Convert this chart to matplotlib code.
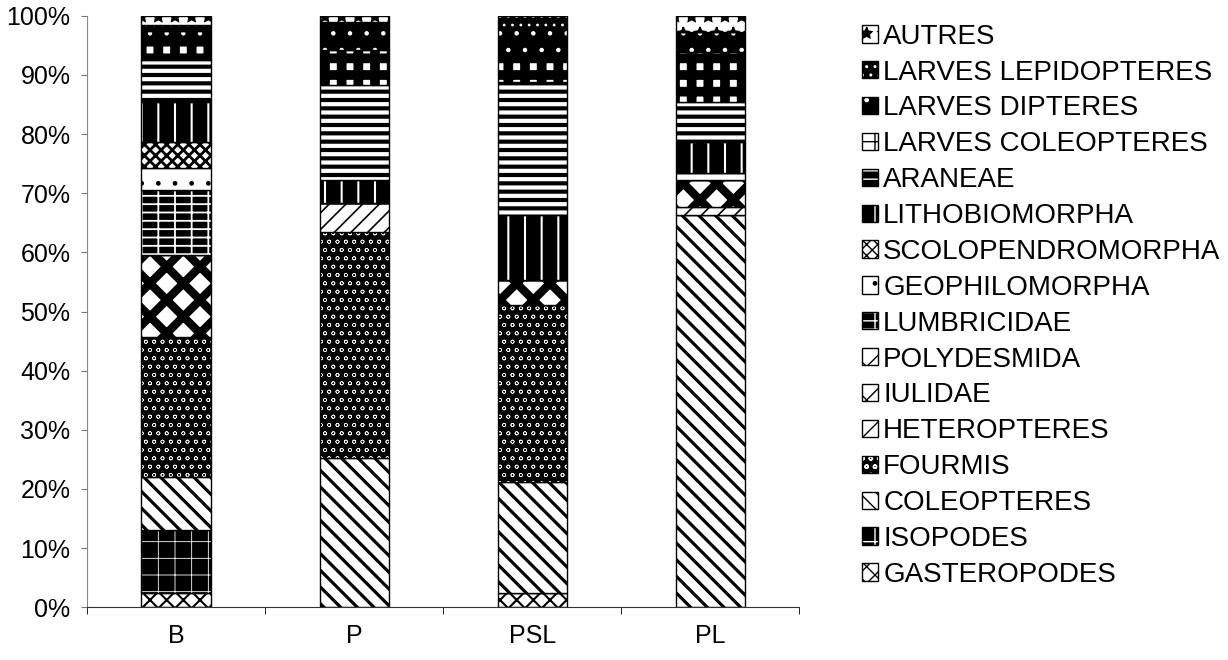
import matplotlib
matplotlib.use('Agg')
import matplotlib.pyplot as plt
import matplotlib.patches as mpatches
from matplotlib.legend_handler import HandlerTuple
import numpy as np

plt.rcParams['font.family'] = ['Liberation Sans', 'DejaVu Sans']

sites = ['B', 'P', 'PSL', 'PL']

taxons = ['GASTEROPODES', 'ISOPODES', 'COLEOPTERES', 'FOURMIS', 'HETEROPTERES',
          'IULIDAE', 'POLYDESMIDA', 'LUMBRICIDAE', 'GEOPHILOMORPHA',
          'SCOLOPENDROMORPHA', 'LITHOBIOMORPHA', 'ARANEAE', 'LARVES COLEOPTERES',
          'LARVES DIPTERES', 'LARVES LEPIDOPTERES', 'AUTRES']

# pourcentages par site (B, P, PSL, PL)
gasteropodes = [2.4, 0, 2.4, 0]
isopodes = [10.6, 0, 0, 0]
coleopteres = [9.0, 25.2, 18.8, 66.3]
fourmis = [23.7, 38.3, 29.9, 0]
heteropteres = [0, 4.9, 0, 1.4]
iulidae = [13.9, 0, 4.2, 4.6]
polydesmida = [0, 0, 0, 0]
lumbricidae = [11.0, 0, 0, 0]
geophilomorpha = [3.7, 0, 0, 1.1]
scolopendromorpha = [4.4, 0, 0, 0]
lithobiomorpha = [6.8, 3.9, 11.0, 5.3]
araneae = [7.0, 16.0, 22.5, 6.7]
larves_coleopteres = [3.9, 5.9, 4.6, 8.5]
larves_dipteres = [1.1, 4.8, 4.6, 3.4]
larves_lepidopteres = [1.0, 0, 2.0, 0]
autres = [1.5, 1.0, 0, 2.7]

valeurs = [gasteropodes, isopodes, coleopteres, fourmis, heteropteres, iulidae,
           polydesmida, lumbricidae, geophilomorpha, scolopendromorpha,
           lithobiomorpha, araneae, larves_coleopteres, larves_dipteres,
           larves_lepidopteres, autres]

# (fond, couleur des hachures, motif, epaisseur)
motifs = {
    'GASTEROPODES': ('white', 'black', 'xx', 1.5),
    'ISOPODES': ('black', 'white', '+', 0.6),
    'COLEOPTERES': ('white', 'black', '\\\\', 2.3),
    'FOURMIS': ('black', 'white', 'oo', 0.45),
    'HETEROPTERES': ('white', 'black', '//', 1.2),
    'IULIDAE': ('white', 'black', 'x', 6.0),
    'POLYDESMIDA': ('white', 'black', 'x', 1.0),
    'LUMBRICIDAE': ('black', 'white', '-+', 1.3),
    'GEOPHILOMORPHA': ('white', 'black', '.', 1.0),
    'SCOLOPENDROMORPHA': ('white', 'black', 'xxx', 2.0),
    'LITHOBIOMORPHA': ('black', 'white', '|', 1.5),
    'ARANEAE': ('black', 'white', '--', 3.0),
    'LARVES COLEOPTERES': ('white', 'black', '+', 7.0),
    'LARVES DIPTERES': ('black', 'white', '.', 0.8),
    'LARVES LEPIDOPTERES': ('black', 'white', '..', 0.8),
    'AUTRES': ('white', 'black', '*', 1.2),
}

fig = plt.figure(figsize=(12.28, 6.6), dpi=100)
ax = fig.add_axes([0.071, 0.080, 0.580, 0.896])

x = np.arange(len(sites))
largeur = 0.39
bas = np.zeros(len(sites))
handles = []
for nom, vals in zip(taxons, valeurs):
    fond, hcol, hatch, hlw = motifs[nom]
    with plt.rc_context({'hatch.linewidth': hlw}):
        ax.bar(x, vals, largeur, bottom=bas, color=fond, edgecolor=hcol,
               hatch=hatch, linewidth=0)
        motif = mpatches.Patch(facecolor=fond, edgecolor=hcol, hatch=hatch,
                               linewidth=0)
    cadre = mpatches.Patch(fill=False, edgecolor='black', linewidth=1.0)
    handles.append((motif, cadre))
    ax.bar(x, vals, largeur, bottom=bas, fill=False, edgecolor='black',
           linewidth=1.0)
    bas += np.array(vals)

ax.set_xlim(-0.5, len(sites) - 0.5)
ax.set_ylim(0, 100)
ax.set_yticks(np.arange(0, 101, 10))
ax.set_yticklabels(['%d%%' % v for v in range(0, 101, 10)])
ax.set_xticks(x)
ax.set_xticklabels(sites)
ax.set_xticks(np.arange(-0.5, len(sites)), minor=True)
ax.tick_params(axis='x', which='major', length=0, labelsize=18, pad=12)
ax.tick_params(axis='x', which='minor', length=5, direction='out')
ax.tick_params(axis='y', length=4, direction='out', labelsize=18, pad=8,
               color='#777777')

for cote in ['top', 'right']:
    ax.spines[cote].set_visible(False)
ax.spines['left'].set_color('#888888')
ax.spines['left'].set_linewidth(0.8)
ax.spines['bottom'].set_color('#333333')

# motif et cadre superposes dans chaque case de la legende
fig.legend(handles[::-1], taxons[::-1], loc='upper left',
           handler_map={tuple: HandlerTuple(ndivide=1, pad=0)},
           bbox_to_anchor=(0.702, 0.964), frameon=False, fontsize=20,
           handlelength=0.58, handleheight=0.58, handletextpad=0.18,
           labelspacing=0.355, borderpad=0, borderaxespad=0)

fig.savefig('out.png', dpi=100)
